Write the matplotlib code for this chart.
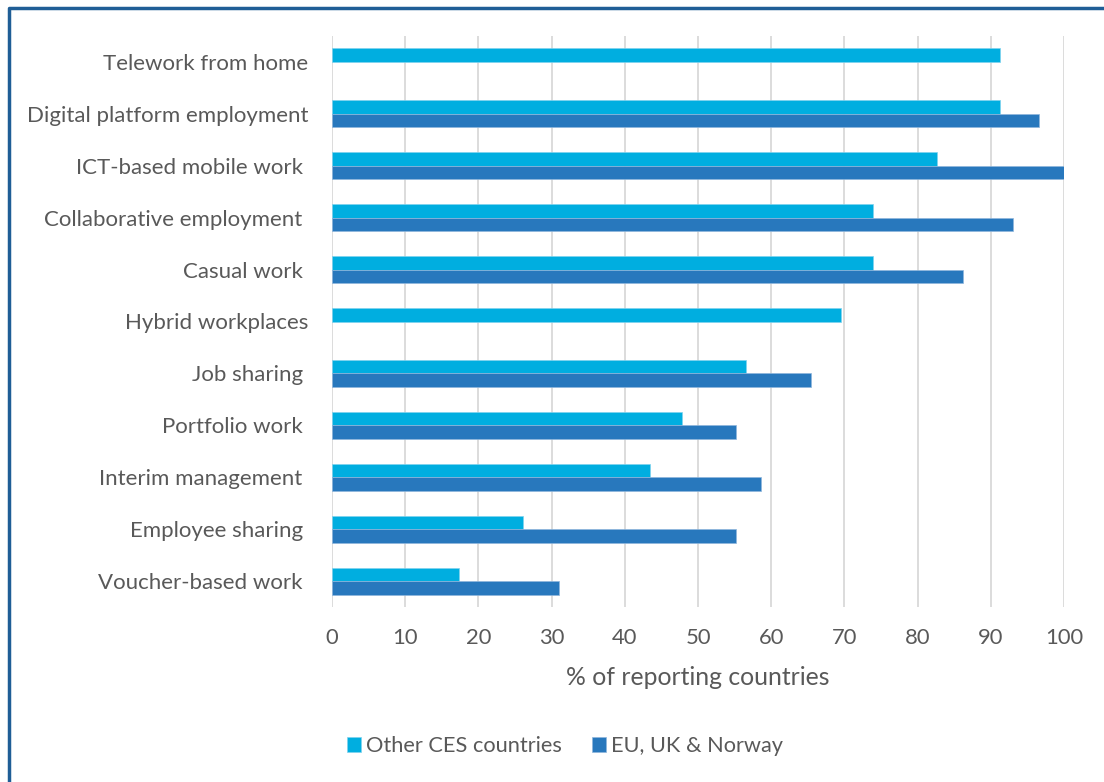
import numpy as np
import matplotlib
matplotlib.use('Agg')
from matplotlib import pyplot as plt
from matplotlib.lines import Line2D

categories = ['Telework from home', 'Digital platform employment', 'ICT-based mobile work ',
              'Collaborative employment ', 'Casual work ', 'Hybrid workplaces', 'Job sharing ',
              'Portfolio work ', 'Interim management ', 'Employee sharing ', 'Voucher-based work ']
other_ces = [91.3, 91.3, 82.6, 73.9, 73.9, 69.6, 56.5, 47.8, 43.5, 26.1, 17.4]
eu_uk_norway = [np.nan, 96.6, 100.0, 93.1, 86.2, np.nan, 65.5, 55.2, 58.6, 55.2, 31.0]
xticks = [0, 10, 20, 30, 40, 50, 60, 70, 80, 90, 100]

c_other = '#00AEE0'
c_eu = '#2878BD'
txt = '#595959'
plt.rcParams['font.family'] = ['Lato', 'DejaVu Sans']

fig = plt.figure(figsize=(11.04, 7.82), dpi=100)
ax = fig.add_axes([332/1104, 1-607/782, 732/1104, 571/782])

y = np.arange(len(categories))
h = 0.26
ax.barh(y - h/2, other_ces, height=h, color=c_other, edgecolor='#7fd3ee', linewidth=0.5,
        label='Other CES countries', zorder=3)
ax.barh(y + h/2, eu_uk_norway, height=h, color=c_eu, edgecolor='#8fb6dc', linewidth=0.5,
        label='EU, UK & Norway', zorder=3)

ax.set_xlim(0, 100)
ax.set_ylim(len(categories) - 0.5, -0.5)
ax.set_xticks(xticks)
ax.set_yticks(y)
ax.set_yticklabels(categories)
ax.tick_params(axis='x', length=0, labelsize=15.8, colors=txt, pad=15)
ax.tick_params(axis='y', length=0, labelsize=16, colors=txt, pad=17)
ax.grid(axis='x', color='#D9D9D9', linewidth=1.3, zorder=0)
for s in ax.spines.values():
    s.set_visible(False)
ax.set_xlabel('% of reporting countries', fontsize=17.8, color=txt, labelpad=13)

leg = fig.legend(loc='center', bbox_to_anchor=(565/1104, 1-746/782), ncol=2, frameon=False,
                 fontsize=15.7, handlelength=0.65, handleheight=0.65, handletextpad=0.2,
                 columnspacing=1.4, labelcolor=txt)

# chart frame (top and left edges)
fig.add_artist(Line2D([9/1104, 9/1104, 1], [0, 1-8/782, 1-8/782], transform=fig.transFigure,
                      color='#1F5E96', linewidth=2.5))

fig.savefig('out.png', dpi=100)
